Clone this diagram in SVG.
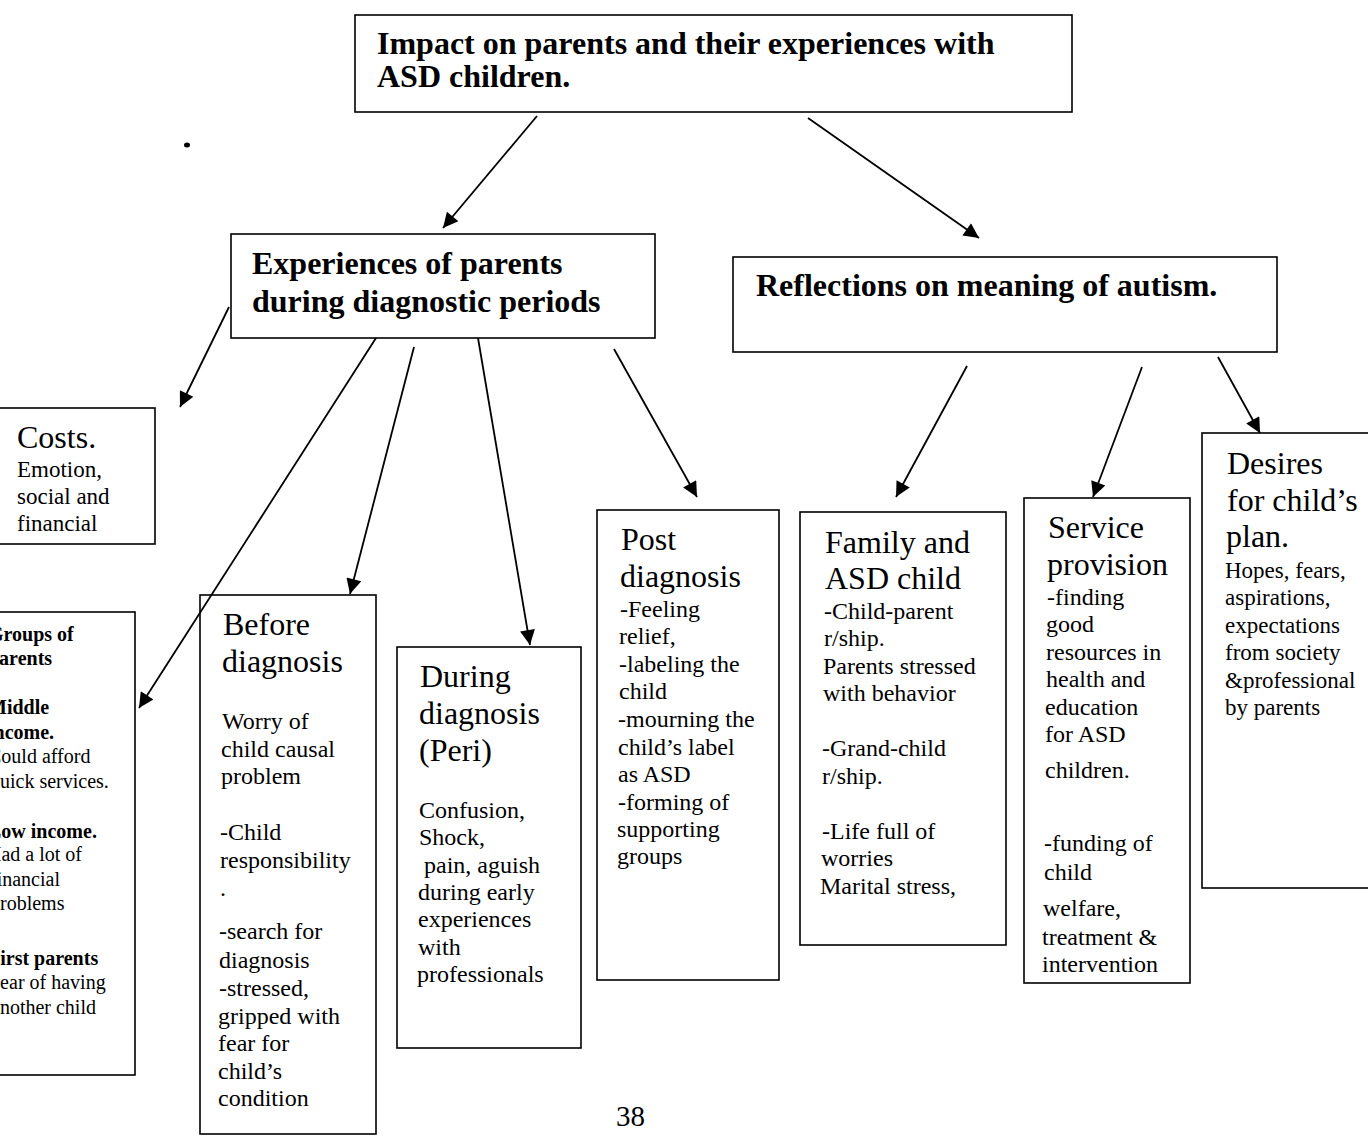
<svg xmlns="http://www.w3.org/2000/svg" width="1368" height="1141" viewBox="0 0 1368 1141">
<defs>
<marker id="ah" viewBox="0 0 10 10" refX="10" refY="5" markerWidth="19" markerHeight="15" markerUnits="userSpaceOnUse" orient="auto">
<path d="M0,0 L10,5 L0,10 z" fill="#000"/>
</marker>
<style>
.box{fill:#fff;stroke:#000;stroke-width:1.6}
.t{font-family:"Liberation Serif","Times New Roman",serif;fill:#000}
.hb{font-size:32px;font-weight:bold}
.h{font-size:32px}
.b{font-size:24px}
.s{font-size:23px}
.g{font-size:20px}
.gb{font-size:20px;font-weight:bold}
.con line{stroke:#000;stroke-width:1.8;marker-end:url(#ah)}
</style>
</defs>
<rect width="1368" height="1141" fill="#fff"/>
<ellipse cx="187" cy="145" rx="3" ry="2.5" fill="#000"/>

<g id="n-impact">
<rect class="box" x="355" y="15" width="717" height="97"/>
<text class="t hb" x="377" y="54">Impact on parents and their experiences with</text>
<text class="t hb" x="377" y="87">ASD children.</text>
</g>

<g id="n-experiences">
<rect class="box" x="231" y="234" width="424" height="104"/>
<text class="t hb" x="252" y="274">Experiences of parents</text>
<text class="t hb" x="252" y="312">during diagnostic periods</text>
</g>

<g id="n-reflections">
<rect class="box" x="733" y="257" width="544" height="95"/>
<text class="t hb" x="756" y="296">Reflections on meaning of autism.</text>
</g>

<g id="n-costs">
<rect class="box" x="-2" y="408" width="157" height="136"/>
<text class="t h" x="17" y="448">Costs.</text>
<text class="t s" x="17" y="477">Emotion,</text>
<text class="t s" x="17" y="504">social and</text>
<text class="t s" x="17" y="531">financial</text>
</g>

<g id="n-groups">
<rect class="box" x="-2" y="612" width="137" height="463"/>
<text class="t gb" x="-12" y="641">Groups of</text>
<text class="t gb" x="-12" y="665">parents</text>
<text class="t gb" x="-12" y="714">Middle</text>
<text class="t gb" x="-12" y="739">income.</text>
<text class="t g" x="-12" y="763">Could afford</text>
<text class="t g" x="-10" y="788">quick services.</text>
<text class="t gb" x="-12" y="838">Low income.</text>
<text class="t g" x="-13" y="861">Had a lot of</text>
<text class="t g" x="-10" y="886">financial</text>
<text class="t g" x="-10" y="910">problems</text>
<text class="t gb" x="-12" y="965">First parents</text>
<text class="t g" x="-11" y="989">Fear of having</text>
<text class="t g" x="-9" y="1014">another child</text>
</g>

<g id="n-before">
<rect class="box" x="200" y="595" width="176" height="539"/>
<text class="t h" x="223" y="635">Before</text>
<text class="t h" x="222" y="672">diagnosis</text>
<text class="t b" x="222" y="729">Worry of</text>
<text class="t b" x="221" y="757">child causal</text>
<text class="t b" x="221" y="784">problem</text>
<text class="t b" x="220" y="840">-Child</text>
<text class="t b" x="220" y="868">responsibility</text>
<text class="t b" x="220" y="896">.</text>
<text class="t b" x="219" y="939">-search for</text>
<text class="t b" x="219" y="968">diagnosis</text>
<text class="t b" x="219" y="996">-stressed,</text>
<text class="t b" x="218" y="1024">gripped with</text>
<text class="t b" x="218" y="1051">fear for</text>
<text class="t b" x="218" y="1079">child’s</text>
<text class="t b" x="218" y="1106">condition</text>
</g>

<g id="n-during">
<rect class="box" x="397" y="647" width="184" height="401"/>
<text class="t h" x="420" y="687">During</text>
<text class="t h" x="419" y="724">diagnosis</text>
<text class="t h" x="419" y="761">(Peri)</text>
<text class="t b" x="419" y="818">Confusion,</text>
<text class="t b" x="419" y="845">Shock,</text>
<text class="t b" x="424" y="873">pain, aguish</text>
<text class="t b" x="418" y="900">during early</text>
<text class="t b" x="418" y="927">experiences</text>
<text class="t b" x="418" y="955">with</text>
<text class="t b" x="417" y="982">professionals</text>
</g>

<g id="n-post">
<rect class="box" x="597" y="510" width="182" height="470"/>
<text class="t h" x="621" y="550">Post</text>
<text class="t h" x="620" y="587">diagnosis</text>
<text class="t b" x="620" y="617">-Feeling</text>
<text class="t b" x="619" y="644">relief,</text>
<text class="t b" x="619" y="672">-labeling the</text>
<text class="t b" x="619" y="699">child</text>
<text class="t b" x="618" y="727">-mourning the</text>
<text class="t b" x="618" y="755">child’s label</text>
<text class="t b" x="618" y="782">as ASD</text>
<text class="t b" x="618" y="810">-forming of</text>
<text class="t b" x="617" y="837">supporting</text>
<text class="t b" x="617" y="864">groups</text>
</g>

<g id="n-family">
<rect class="box" x="800" y="512" width="206" height="433"/>
<text class="t h" x="825" y="553">Family and</text>
<text class="t h" x="825" y="589">ASD child</text>
<text class="t b" x="824" y="619">-Child-parent</text>
<text class="t b" x="824" y="646">r/ship.</text>
<text class="t b" x="823" y="674">Parents stressed</text>
<text class="t b" x="823" y="701">with behavior</text>
<text class="t b" x="822" y="756">-Grand-child</text>
<text class="t b" x="822" y="784">r/ship.</text>
<text class="t b" x="822" y="839">-Life full of</text>
<text class="t b" x="821" y="866">worries</text>
<text class="t b" x="820" y="894">Marital stress,</text>
</g>

<g id="n-service">
<rect class="box" x="1024" y="498" width="166" height="485"/>
<text class="t h" x="1048" y="538">Service</text>
<text class="t h" x="1047" y="575">provision</text>
<text class="t b" x="1047" y="605">-finding</text>
<text class="t b" x="1046" y="632">good</text>
<text class="t b" x="1046" y="660">resources in</text>
<text class="t b" x="1046" y="687">health and</text>
<text class="t b" x="1045" y="715">education</text>
<text class="t b" x="1045" y="742">for ASD</text>
<text class="t b" x="1045" y="778">children.</text>
<text class="t b" x="1044" y="851">-funding of</text>
<text class="t b" x="1044" y="880">child</text>
<text class="t b" x="1043" y="916">welfare,</text>
<text class="t b" x="1042" y="945">treatment &amp;</text>
<text class="t b" x="1042" y="972">intervention</text>
</g>

<g id="n-desires">
<rect class="box" x="1202" y="433" width="170" height="455"/>
<text class="t h" x="1227" y="474">Desires</text>
<text class="t h" x="1227" y="511">for child’s</text>
<text class="t h" x="1226" y="547">plan.</text>
<text class="t s" x="1225" y="578">Hopes, fears,</text>
<text class="t s" x="1225" y="605">aspirations,</text>
<text class="t s" x="1225" y="633">expectations</text>
<text class="t s" x="1225" y="660">from society</text>
<text class="t s" x="1225" y="688">&amp;professional</text>
<text class="t s" x="1225" y="715">by parents</text>
</g>

<g class="con" id="connectors">
<line x1="537" y1="116" x2="443" y2="228"/>
<line x1="808" y1="118" x2="979" y2="238"/>
<line x1="229" y1="307" x2="180" y2="407"/>
<line x1="376" y1="338" x2="139" y2="708"/>
<line x1="414" y1="347" x2="350" y2="594"/>
<line x1="478" y1="338" x2="530" y2="645"/>
<line x1="614" y1="349" x2="697" y2="497"/>
<line x1="967" y1="366" x2="896" y2="497"/>
<line x1="1142" y1="367" x2="1093" y2="497"/>
<line x1="1218" y1="357" x2="1260" y2="433"/>
</g>

<text class="t" x="616" y="1126" font-size="29">38</text>
</svg>
